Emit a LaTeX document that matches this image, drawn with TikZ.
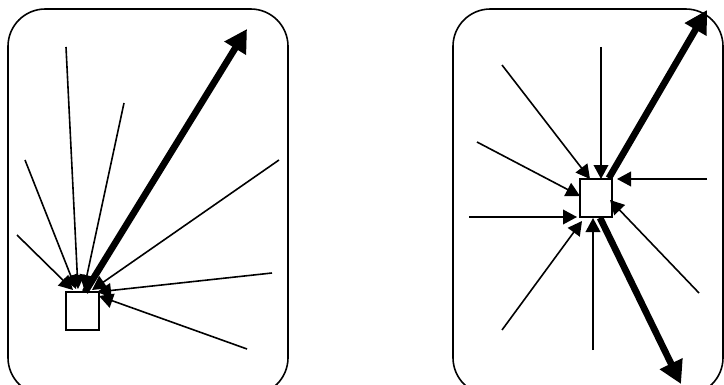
\documentclass[tikz,border=0pt]{standalone}
\usetikzlibrary{arrows.meta}
\begin{document}
\begin{tikzpicture}[x=0.75pt,y=-0.75pt,
  panel/.style={draw=black,line width=1.2pt,rounded corners=28pt},
  hubbox/.style={draw=black,fill=white,line width=1.2pt,minimum width=#1,inner sep=0pt},
  thin/.style={line width=1.2pt,-{Triangle[length=10.5pt,width=11pt]}},
  thick/.style={line width=5pt,-{Triangle[length=17pt,width=18pt]}}]
\useasboundingbox (0,0) rectangle (724,385);
\clip (0,0) rectangle (724,385);
% left panel
\draw[panel] (8,9) rectangle (288,395);
\node[hubbox=24.75pt,minimum height=28.5pt] (L) at (82.5,311) {};
\coordinate (l1) at (17,235);  \coordinate (t1) at (73,290);
\coordinate (l2) at (25,160);  \coordinate (t2) at (76,289);
\coordinate (l3) at (66,47);   \coordinate (t3) at (78,289);
\coordinate (l4) at (124,103); \coordinate (t4) at (84,289);
\coordinate (lk) at (247,29);  \coordinate (tk) at (85,292);
\coordinate (l5) at (279,160); \coordinate (t5) at (92,290);
\coordinate (l6) at (272,273); \coordinate (t6) at (97,292);
\coordinate (l7) at (247,349); \coordinate (t7) at (99,296);
\draw[thick] (tk) -- (lk);
\foreach \i in {1,...,7}{\draw[thin] (l\i) -- (t\i);}
% right panel
\draw[panel] (453,9) rectangle (723,395);
\node[hubbox=24pt,minimum height=28.5pt] (R) at (596,198) {};
\coordinate (r1) at (601,47);  \coordinate (s1) at (601,179);
\coordinate (r2) at (502,65);  \coordinate (s2) at (590,179);
\coordinate (r3) at (477,142); \coordinate (s3) at (580,196);
\coordinate (r4) at (469,217); \coordinate (s4) at (577,217);
\coordinate (r5) at (502,330); \coordinate (s5) at (582,221);
\coordinate (r6) at (593,350); \coordinate (s6) at (593,218);
\coordinate (r7) at (699,293); \coordinate (s7) at (610,200);
\coordinate (r8) at (707,179); \coordinate (s8) at (617,179);
\coordinate (ku) at (707,10);  \coordinate (kd) at (681,384);
\draw[thick] (R.north east) ++(-4,0) coordinate (ks) -- (ku);
\draw[thick] (R.south) ++(4,0) coordinate (kt) -- (kd);
\foreach \i in {1,...,8}{\draw[thin] (r\i) -- (s\i);}
\end{tikzpicture}
\end{document}
